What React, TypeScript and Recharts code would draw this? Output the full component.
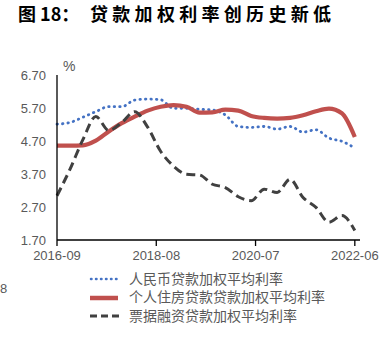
import { LineChart, Line, XAxis, YAxis } from 'recharts';

// quarterly observations, 2016-09 .. 2022-06
const quarters = [
  '2016-09', '2016-12', '2017-03', '2017-06', '2017-09', '2017-12',
  '2018-03', '2018-06', '2018-09', '2018-12', '2019-03', '2019-06',
  '2019-09', '2019-12', '2020-03', '2020-06', '2020-09', '2020-12',
  '2021-03', '2021-06', '2021-09', '2021-12', '2022-03', '2022-06',
];
const rmbLoan = [5.21, 5.26, 5.42, 5.59, 5.74, 5.74, 5.94, 5.97, 5.95, 5.69, 5.69, 5.66, 5.64, 5.49, 5.14, 5.11, 5.14, 5.06, 5.14, 4.97, 5.04, 4.79, 4.69, 4.49];
const mortgage = [4.56, 4.56, 4.57, 4.71, 4.99, 5.24, 5.44, 5.62, 5.74, 5.79, 5.74, 5.56, 5.57, 5.65, 5.62, 5.46, 5.40, 5.38, 5.40, 5.48, 5.60, 5.68, 5.54, 4.82];
const billFinance = [3.04, 3.84, 4.74, 5.44, 5.02, 5.26, 5.59, 5.12, 4.39, 3.94, 3.69, 3.67, 3.39, 3.29, 3.01, 2.89, 3.24, 3.14, 3.54, 2.99, 2.69, 2.24, 2.44, 1.99];

const xTickLabels = ['2016-09', '2018-08', '2020-07', '2022-06'];
const yTicks = [1.7, 2.7, 3.7, 4.7, 5.7, 6.7];

const seriesNames = ['人民币贷款加权平均利率', '个人住房贷款贷款加权平均利率', '票据融资贷款加权平均利率'];

const monthIndex = (s: string) => {
  const [y, m] = s.split('-').map(Number);
  return (y - 2016) * 12 + (m - 9);
};

const data = quarters.map((q, i) => ({
  m: monthIndex(q),
  rmb: rmbLoan[i],
  house: mortgage[i],
  bill: billFinance[i],
}));
const xTicks = xTickLabels.map(monthIndex);

const FONT = '"Liberation Sans", Arial, sans-serif';
const CJK = '"Noto Sans CJK SC", sans-serif';
const GREY = '#595959';

const titleStyle = {
  position: 'absolute' as const,
  top: 0,
  fontFamily: CJK,
  fontWeight: 700,
  fontSize: 18,
  lineHeight: 'normal',
  color: '#000',
  whiteSpace: 'nowrap' as const,
};

export default function App() {
  return (
    <div style={{ position: 'absolute', left: 0, top: 0, width: 390, height: 337, background: '#fff', overflow: 'hidden' }}>
      <div style={{ ...titleStyle, left: 18 }}>图 18：</div>
      <div style={{ ...titleStyle, left: 90, letterSpacing: 4.3 }}>贷款加权利率创历史新低</div>
      <div style={{ position: 'absolute', left: 63, top: 58, fontFamily: FONT, fontSize: 14, color: GREY }}>%</div>

      <LineChart width={390} height={337} data={data} margin={{ top: 75, right: 30, bottom: 67, left: 8 }}>
        <XAxis
          dataKey="m"
          type="number"
          domain={[0, 70.2]}
          ticks={xTicks}
          tickFormatter={(v: number) => xTickLabels[xTicks.indexOf(v)] ?? ''}
          axisLine={{ stroke: '#000', strokeWidth: 1.3 }}
          tickLine={{ stroke: '#000', strokeWidth: 1.3 }}
          tickSize={6}
          tickMargin={5}
          height={30}
          tick={{ fill: GREY, fontSize: 13, fontFamily: FONT }}
        />
        <YAxis
          domain={[1.7, 6.7]}
          ticks={yTicks}
          tickFormatter={(v: number) => v.toFixed(2)}
          axisLine={{ stroke: '#000', strokeWidth: 1.3 }}
          tickLine={false}
          tickSize={0}
          tickMargin={11}
          width={49}
          tick={{ fill: GREY, fontSize: 13, fontFamily: FONT }}
        />
        <Line dataKey="rmb" type="monotone" stroke="#4472C4" strokeWidth={2.8} strokeDasharray="0.5 5" strokeLinecap="round" dot={false} isAnimationActive={false} />
        <Line dataKey="house" type="monotone" stroke="#C0504D" strokeWidth={4.2} dot={false} isAnimationActive={false} />
        <Line dataKey="bill" type="monotone" stroke="#404040" strokeWidth={3} strokeDasharray="9 5" dot={false} isAnimationActive={false} />
      </LineChart>

      <svg style={{ position: 'absolute', left: 0, top: 264 }} width={390} height={70}>
        <line x1={91} x2={120} y1={15} y2={15} stroke="#4472C4" strokeWidth={2.5} strokeDasharray="0.5 4.5" strokeLinecap="round" />
        <line x1={90} x2={118} y1={34} y2={34} stroke="#C0504D" strokeWidth={4.5} />
        <line x1={90} x2={120} y1={52} y2={52} stroke="#404040" strokeWidth={3} strokeDasharray="7 4" />
        {seriesNames.map((n, i) => (
          <text key={n} x={129} y={15 + i * 18.5} dy="0.35em" fontSize={14} fill={GREY} fontFamily={CJK}>{n}</text>
        ))}
        <text x={0} y={24} dy="0.35em" fontSize={13} fill={GREY} fontFamily={FONT}>8</text>
      </svg>
    </div>
  );
}
